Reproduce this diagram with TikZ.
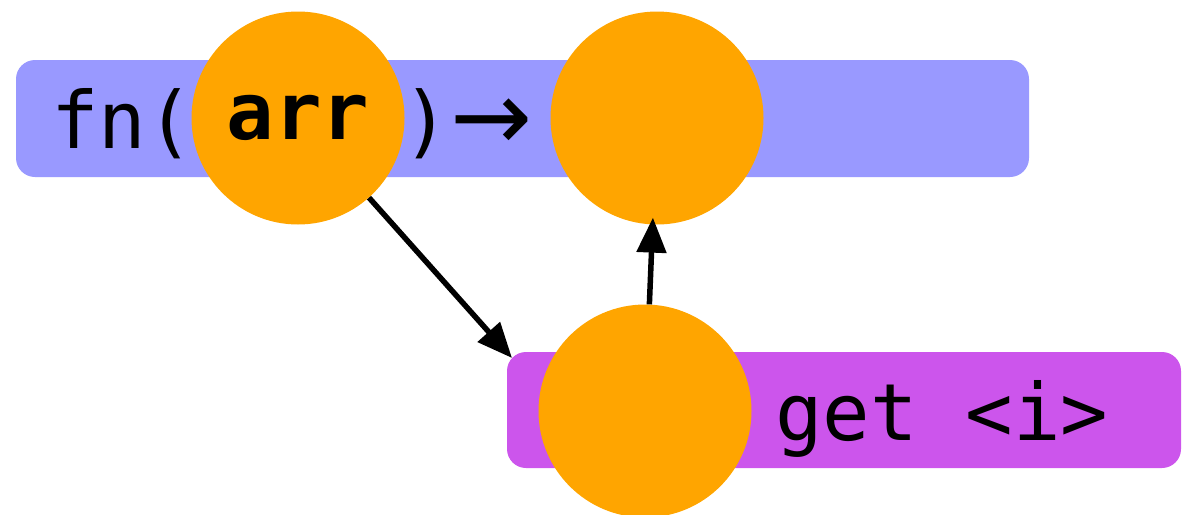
\documentclass[tikz,border=0pt]{standalone}
\usepackage{fontspec}
\setmonofont{DejaVu Sans Mono}
\newfontfamily\arrowfont{DejaVu Sans}
\usetikzlibrary{arrows.meta}
\definecolor{barblue}{HTML}{9999FF}
\definecolor{barpurple}{HTML}{CC55EC}
\definecolor{slot}{HTML}{FFA500}
\tikzset{
  bar/.style={fill=#1, draw=none, rounded corners=19pt},
  slotnode/.style={circle, fill=slot, draw=none, minimum size=213pt, inner sep=0pt},
  code/.style={inner sep=0pt, anchor=base west, font=\fontsize{79}{90}\selectfont\ttfamily},
  link/.style={line width=5.5pt, -{Triangle[length=35pt,width=29pt]}},
}
\begin{document}
\begin{tikzpicture}[x=1pt,y=-1pt]
  \useasboundingbox (0,0) rectangle (1182,514);
  % signature bar and the accessor bar
  \path[bar=barblue] (16,60) rectangle (1029,177);
  \path[bar=barpurple] (507,352) rectangle (1181,468);
  % text of the signature
  \node[code] (fn) at (51,148) {fn(};
  \node[code] (close) at (402,148) {)};
  \node[inner sep=0pt, anchor=base west, font=\fontsize{98}{110}\selectfont\arrowfont] (ret) at (450,150) {→};
  \node[code] (get) at (775,440) {get <i>};
  % value slots
  \node[slotnode, font=\fontsize{79}{90}\selectfont\ttfamily\bfseries] (arr) at (298,118) {arr};
  \node[slotnode] (out) at (657,118) {};
  \node[slotnode] (elem) at (645,411) {};
  % data flow
  \coordinate (entry) at (512,358);
  \draw[link] (arr) -- (entry);
  \draw[link, shorten >=-7pt] (elem) -- (out);
\end{tikzpicture}
\end{document}
